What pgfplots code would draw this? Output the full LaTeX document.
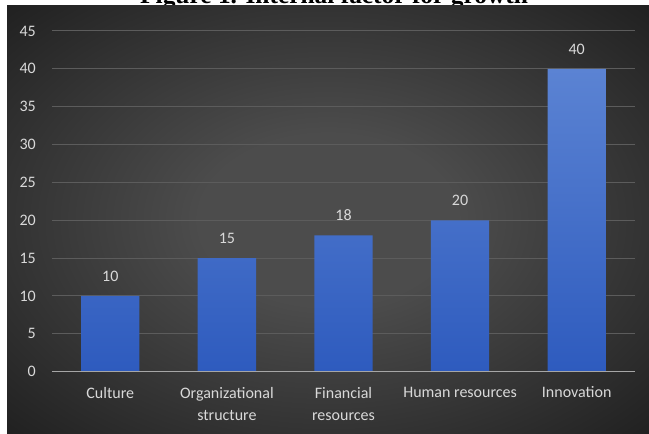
\documentclass[border=0pt]{standalone}
\usepackage{pgfplots}
\pgfplotsset{compat=1.18}
\usepackage{fontspec}
\setmainfont{Carlito}
\newfontfamily\titlefont{Liberation Serif}
\definecolor{bgin}{HTML}{4C4C4C}
\definecolor{bgout}{HTML}{1E1E1E}
\definecolor{txt}{HTML}{D9D9D9}
\definecolor{gridc}{HTML}{5C5C5C}
\definecolor{zline}{HTML}{A6A6A6}
\definecolor{bartop}{HTML}{5B83D3}
\definecolor{barbot}{HTML}{2E5BBE}
\pgfdeclareradialshading{bgshade}{\pgfpoint{0bp}{0bp}}{color(0bp)=(bgin); color(10bp)=(bgin); color(37bp)=(bgout); color(50bp)=(bgout)}
\begin{document}
\begin{tikzpicture}[x=1pt,y=1pt]
\useasboundingbox (0,0) rectangle (649,434);
\fill[white] (0,0) rectangle (649,434);
\node[font=\titlefont\bfseries\fontsize{25.4}{30}\selectfont, anchor=base west, inner sep=0pt] at (140,430.5) {Figure 1. Internal factor for growth};
\shade[shading=bgshade] (7,0) rectangle (649,428);
\begin{axis}[
  at={(52pt,62.3pt)}, anchor=south west,
  scale only axis, width=583pt, height=340.7pt,
  xmin=-0.5, xmax=4.5, ymin=0, ymax=45,
  /pgf/number format/assume math mode=true,
  axis line style={draw=none},
  ytick={0,5,...,45},
  ymajorgrids, grid style={gridc, line width=1pt},
  xtick={0,1,2,3,4},
  xticklabels={Culture, Organizational\\structure, Financial\\resources, Human resources, Innovation},
  major tick length=0pt,
  tick label style={font=\fontsize{16}{22}\selectfont, text=txt},
  xticklabel style={align=center, anchor=north, inner sep=0pt, yshift=-15pt},
  yticklabel style={anchor=east, inner sep=0pt, xshift=-16pt},
]
\addplot[ybar, bar width=0.5, draw=none, top color=bartop, bottom color=barbot,
  nodes near coords,
  nodes near coords style={font=\fontsize{16}{20}\selectfont, text=txt, anchor=south, inner sep=0pt, yshift=14.5pt}]
  coordinates {(0,10) (1,15) (2,18) (3,20) (4,40)};
\draw[zline, line width=1.5pt] (axis cs:-0.5,0) -- (axis cs:4.5,0);
\end{axis}
\end{tikzpicture}
\end{document}
